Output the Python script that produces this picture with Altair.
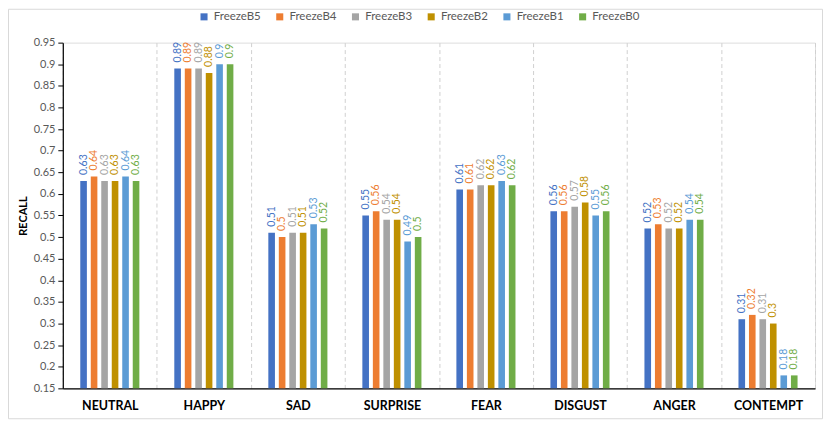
import altair as alt
import pandas as pd

categories = ["NEUTRAL", "HAPPY", "SAD", "SURPRISE", "FEAR", "DISGUST", "ANGER", "CONTEMPT"]
series = ["FreezeB5", "FreezeB4", "FreezeB3", "FreezeB2", "FreezeB1", "FreezeB0"]
freeze_b5 = [0.63, 0.89, 0.51, 0.55, 0.61, 0.56, 0.52, 0.31]
freeze_b4 = [0.64, 0.89, 0.50, 0.56, 0.61, 0.56, 0.53, 0.32]
freeze_b3 = [0.63, 0.89, 0.51, 0.54, 0.62, 0.57, 0.52, 0.31]
freeze_b2 = [0.63, 0.88, 0.51, 0.54, 0.62, 0.58, 0.52, 0.30]
freeze_b1 = [0.64, 0.90, 0.53, 0.49, 0.63, 0.55, 0.54, 0.18]
freeze_b0 = [0.63, 0.90, 0.52, 0.50, 0.62, 0.56, 0.54, 0.18]
colors = ["#4472C4", "#ED7D31", "#A5A5A5", "#BF9000", "#5B9BD5", "#70AD47"]
y_ticks = [0.15, 0.2, 0.25, 0.3, 0.35, 0.4, 0.45, 0.5, 0.55, 0.6, 0.65,
           0.7, 0.75, 0.8, 0.85, 0.9, 0.95]

rows = []
for s, vals in zip(series, [freeze_b5, freeze_b4, freeze_b3, freeze_b2, freeze_b1, freeze_b0]):
    for c, v in zip(categories, vals):
        rows.append({"emotion": c, "model": s, "recall": v})
df = pd.DataFrame(rows)

W, H = 755, 347
PL, PT, PR, PB = 55, 34, 8, 31
STEP = W / len(categories)
GROUP = 59.3

x = alt.X(
    "emotion:N", sort=categories,
    scale=alt.Scale(paddingInner=0, paddingOuter=0),
    axis=alt.Axis(
        title=None, labelAngle=0, labelFont="Lato", labelFontWeight="bold",
        labelFontSize=12.5, labelColor="#000000", labelPadding=11, ticks=False,
        domainColor="#000000", domainWidth=1.2, grid=True, gridDash=[4, 3],
        gridColor="#D0D0D0", gridWidth=1, tickBand="extent",
    ),
)
xo = alt.XOffset(
    "model:N", sort=series,
    scale=alt.Scale(paddingInner=0.37, paddingOuter=0,
                    range=[(STEP - GROUP) / 2, (STEP + GROUP) / 2]),
)
y = alt.Y(
    "recall:Q",
    scale=alt.Scale(domain=[0.15, 0.95], zero=False, nice=False),
    axis=alt.Axis(
        values=y_ticks, tickCount=len(y_ticks) + 2, format=".2~f",
        title="RECALL", grid=False, labelOverlap=False,
        labelFont="Lato", labelFontSize=11, labelColor="#595959", labelPadding=3,
        tickColor="#000000", tickSize=5, domainColor="#000000", domainWidth=1.2,
        titleFont="Lato", titleFontWeight="bold", titleFontSize=11,
        titleColor="#000000", titlePadding=5,
    ),
)
color = alt.Color(
    "model:N", sort=series,
    scale=alt.Scale(domain=series, range=colors),
    legend=alt.Legend(
        title=None, orient="none", legendX=136, legendY=-32,
        direction="horizontal", symbolType="square", symbolSize=50,
        symbolStrokeWidth=0, labelFont="Lato", labelFontSize=11.5,
        labelColor="#595959", columnPadding=13, labelOffset=4,
    ),
)

bars = alt.Chart(df).mark_bar().encode(
    x=x, xOffset=xo, y=y, y2=alt.Y2Datum(0.15), color=color
)
labels = alt.Chart(df).mark_text(
    angle=270, align="left", baseline="middle", dx=6, fontSize=10.5, font="Lato"
).encode(
    x=x, xOffset=xo, y=y,
    text=alt.Text("recall:Q", format=".2~f"), color=color
)
border = alt.Chart(pd.DataFrame({"k": [0]})).mark_rect(
    filled=False, stroke="#D9D9D9", strokeWidth=1
).encode(
    x=alt.value(-PL + 0.5), x2=alt.value(W + PR - 0.5),
    y=alt.value(-PT + 0.5), y2=alt.value(H + PB - 0.5),
)

chart = alt.layer(border, bars, labels).properties(
    width=W, height=H,
    autosize=alt.AutoSizeParams(type="none"),
    padding={"left": PL, "top": PT, "right": PR, "bottom": PB},
).configure_view(stroke=None).configure(font="Lato")

chart.save("out.html", embed_options={"renderer": "svg", "actions": False})
